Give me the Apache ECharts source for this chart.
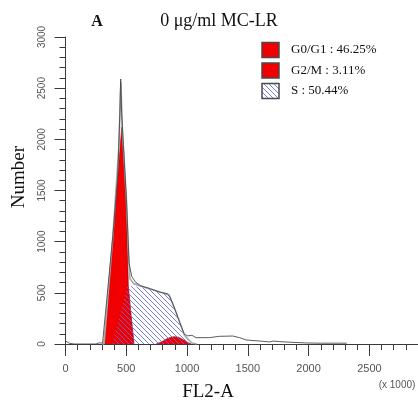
<!DOCTYPE html>
<html><head><meta charset="utf-8">
<script src="https://cdn.jsdelivr.net/npm/echarts/dist/echarts.min.js"></script>
<style>html,body{margin:0;padding:0;background:#fff}#c{width:418px;height:400px}</style>
</head><body><div id="c"></div>
<script>
// ---- data ----
const titleLetter = 'A';
const titleText = '0 μg/ml MC-LR';
const xName = 'FL2-A';
const xUnit = '(x 1000)';
const yName = 'Number';
const legendLabels = ['G0/G1 : 46.25%', 'G2/M : 3.11%', 'S : 50.44%'];
const xMax = 2900, yMax = 3000;
const xMajorStep = 500, xMinorStep = 100, yMajorStep = 500, yMinorStep = 100;

// measured histogram outline (data)
const dataX = [0, 30, 70, 250, 280, 305, 317, 390, 430, 447, 454, 462, 476, 501, 523, 545, 579, 620, 700, 780, 840, 860, 900, 940, 978, 1005, 1040, 1074, 1184, 1267, 1377, 1432, 1488, 1598, 1680, 1708, 1763, 1873, 1983, 2100, 2314];
const dataY = [30, 8, 0, 0, 12, 8, 5, 1060, 1640, 2250, 2590, 2250, 1950, 1420, 790, 660, 600, 569, 540, 505, 490, 460, 340, 210, 95, 80, 85, 62, 62, 75, 78, 62, 39, 29, 20, 29, 23, 16, 10, 8, 8];

// model fit (sum of components)
const fitX = [300, 317, 390, 440, 452, 456, 462, 470, 501, 518, 530, 560, 620, 700, 800, 850, 880, 935, 978, 1005, 1040, 1080];
const fitY = [0, 0, 1060, 1950, 2450, 2560, 2300, 2050, 1420, 900, 640, 590, 565, 535, 500, 480, 400, 230, 85, 50, 10, 0];

// G0/G1 component
const g0g1X = [317, 390, 463, 501, 517, 540, 564];
const g0g1Y = [0, 1060, 2120, 1402, 569, 280, 0];

// G2/M component
const g2mX = [745, 790, 830, 865, 895, 930, 965, 1000, 1035];
const g2mY = [0, 20, 48, 66, 72, 66, 45, 18, 0];

// S component
const sX = [385, 509, 523, 600, 700, 790, 840, 881, 936, 978, 1019, 1040];
const sY = [0, 569, 572, 560, 535, 505, 487, 389, 225, 78, 13, 0];

const zip = (xs, ys) => xs.map((x, i) => [x, ys[i]]);

// hatch pattern
function makeHatch() {
  const s = 5;
  const c = document.createElement('canvas');
  c.width = s; c.height = s;
  const g = c.getContext('2d');
  g.strokeStyle = 'rgba(100,104,222,0.85)';
  g.lineWidth = 1;
  g.beginPath();
  g.moveTo(-1, -1); g.lineTo(s + 1, s + 1);
  g.moveTo(-1, s - 1); g.lineTo(1, s + 1);
  g.moveTo(s - 1, -1); g.lineTo(s + 1, 1);
  g.stroke();
  return c;
}
const hatch = { image: makeHatch(), repeat: 'repeat' };
const RED = '#f00000';

const chart = echarts.init(document.getElementById('c'), null, { renderer: 'canvas' });
const axisCol = '#3a3a3a';
const labelCol = '#555';
const plain = v => String(v);

const lineSeries = (name, xs, ys, extra) => Object.assign({
  name, type: 'line', data: zip(xs, ys), symbol: 'none', smooth: false,
  xAxisIndex: 0, yAxisIndex: 0, silent: true, animation: false
}, extra);

chart.setOption({
  animation: false,
  grid: { left: 65.5, right: 0, top: 37, bottom: 56 },
  xAxis: [
    { type: 'value', min: 0, max: xMax, interval: xMinorStep, position: 'bottom',
      axisLine: { show: true, lineStyle: { color: axisCol, width: 1 } },
      axisTick: { show: true, length: 6, lineStyle: { color: axisCol } },
      axisLabel: { show: false }, splitLine: { show: false } },
    { type: 'value', min: 0, max: xMax, interval: xMajorStep, position: 'bottom', offset: 0,
      axisLine: { show: false },
      axisTick: { show: true, length: 12, lineStyle: { color: axisCol } },
      axisLabel: { show: true, showMaxLabel: false, margin: 19, color: labelCol, formatter: plain,
        fontSize: 11, fontFamily: 'Liberation Sans, Arial, sans-serif' },
      splitLine: { show: false } }
  ],
  yAxis: [
    { type: 'value', min: 0, max: yMax, interval: yMinorStep, position: 'left',
      axisLine: { show: true, lineStyle: { color: axisCol, width: 1 } },
      axisTick: { show: true, length: 6, lineStyle: { color: axisCol } },
      axisLabel: { show: false }, splitLine: { show: false } },
    { type: 'value', min: 0, max: yMax, interval: yMajorStep, position: 'left', offset: 0,
      axisLine: { show: false },
      axisTick: { show: true, length: 11, lineStyle: { color: axisCol } },
      axisLabel: { show: true, rotate: 90, margin: 18, color: labelCol, formatter: plain,
        fontSize: 10, fontFamily: 'Liberation Sans, Arial, sans-serif' },
      splitLine: { show: false } }
  ],
  series: [
    lineSeries(legendLabels[0], g0g1X, g0g1Y, { z: 2,
      lineStyle: { color: '#8a0000', width: 0.6 }, areaStyle: { color: RED, opacity: 1 } }),
    lineSeries(legendLabels[1], g2mX, g2mY, { z: 2,
      lineStyle: { color: '#8a0000', width: 0.6 }, areaStyle: { color: RED, opacity: 1 } }),
    lineSeries(legendLabels[2], sX, sY, { z: 3,
      lineStyle: { width: 0 }, areaStyle: { color: hatch, opacity: 1 } }),
    lineSeries('fit', fitX, fitY, { z: 4, lineStyle: { color: '#a8a8a8', width: 1.6 } }),
    lineSeries('data', dataX, dataY, { z: 5, lineStyle: { color: '#4a4a4a', width: 0.9 } })
  ],
  graphic: [
    { type: 'text', x: 97, y: 22, style: { text: titleLetter, font: 'bold 16px "Liberation Serif", serif',
      fill: '#111', align: 'center', verticalAlign: 'middle', textAlign: 'center', textVerticalAlign: 'middle' } },
    { type: 'text', x: 219, y: 21, style: { text: titleText, font: '18px "Liberation Serif", serif',
      fill: '#111', align: 'center', verticalAlign: 'middle', textAlign: 'center', textVerticalAlign: 'middle' } },
    { type: 'text', x: 208, y: 392, style: { text: xName, font: '19px "Liberation Serif", serif',
      fill: '#111', align: 'center', verticalAlign: 'middle', textAlign: 'center', textVerticalAlign: 'middle' } },
    { type: 'text', x: 397, y: 385, style: { text: xUnit, font: '10px "Liberation Sans", Arial, sans-serif',
      fill: labelCol, align: 'center', verticalAlign: 'middle', textAlign: 'center', textVerticalAlign: 'middle' } },
    { type: 'text', x: 19, y: 177, rotation: Math.PI / 2, style: { text: yName, font: '19px "Liberation Serif", serif',
      fill: '#111', align: 'center', verticalAlign: 'middle', textAlign: 'center', textVerticalAlign: 'middle' } },
    // legend
    { type: 'rect', shape: { x: 262, y: 42.5, width: 17, height: 15 }, style: { fill: RED, stroke: '#4a4a4a', lineWidth: 1.5 } },
    { type: 'rect', shape: { x: 262, y: 63, width: 17, height: 15 }, style: { fill: RED, stroke: '#4a4a4a', lineWidth: 1.5 } },
    { type: 'rect', shape: { x: 262, y: 83.5, width: 17, height: 15 }, style: { fill: hatch, stroke: '#4a4a4a', lineWidth: 1.5 } },
    { type: 'text', x: 291, y: 50, style: { text: legendLabels[0], font: '13px "Liberation Serif", serif',
      fill: '#111', align: 'left', verticalAlign: 'middle', textAlign: 'left', textVerticalAlign: 'middle' } },
    { type: 'text', x: 291, y: 70.5, style: { text: legendLabels[1], font: '13px "Liberation Serif", serif',
      fill: '#111', align: 'left', verticalAlign: 'middle', textAlign: 'left', textVerticalAlign: 'middle' } },
    { type: 'text', x: 291, y: 91, style: { text: legendLabels[2], font: '13px "Liberation Serif", serif',
      fill: '#111', align: 'left', verticalAlign: 'middle', textAlign: 'left', textVerticalAlign: 'middle' } }
  ]
});
</script>
</body></html>
